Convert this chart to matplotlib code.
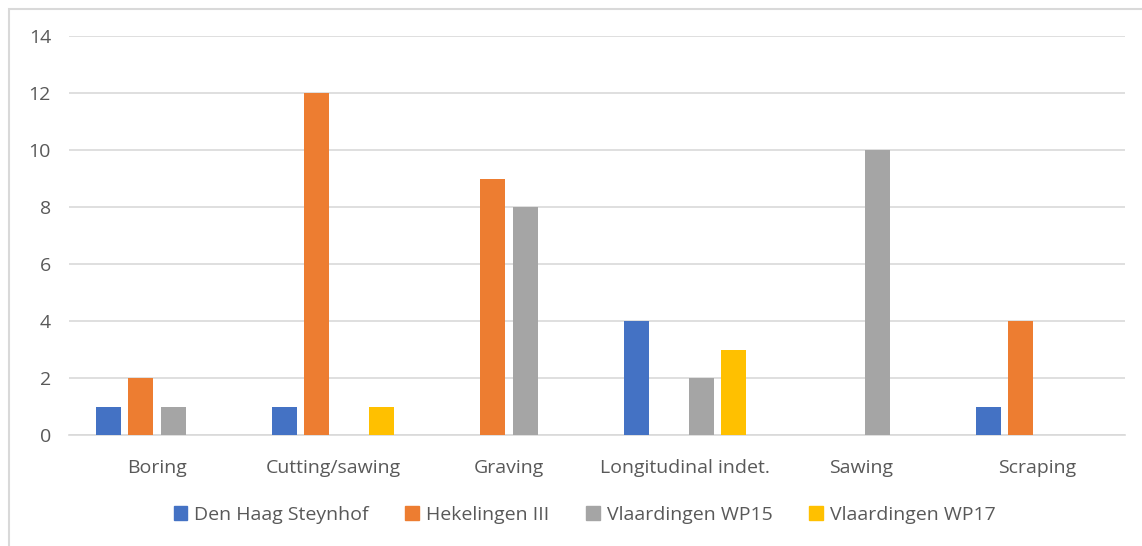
import matplotlib
matplotlib.use("Agg")
import matplotlib.pyplot as plt
import numpy as np
from matplotlib.patches import Rectangle

categories = ["Boring", "Cutting/sawing", "Graving", "Longitudinal indet.", "Sawing", "Scraping"]
series_names = ["Den Haag Steynhof", "Hekelingen III", "Vlaardingen WP15", "Vlaardingen WP17"]
den_haag = [1, 1, 0, 4, 0, 1]
hekelingen = [2, 12, 9, 0, 0, 4]
vlaardingen15 = [1, 0, 8, 2, 10, 0]
vlaardingen17 = [0, 1, 0, 3, 0, 0]
yticks = [0, 2, 4, 6, 8, 10, 12, 14]

colors = ["#4472C4", "#ED7D31", "#A5A5A5", "#FFC000"]
text_color = "#595959"

plt.rcParams['font.family'] = ['Open Sans', 'DejaVu Sans']

W, H = 1142, 546
fig = plt.figure(figsize=(W / 100, H / 100), dpi=100)
fig.patch.set_facecolor("white")
# light chart-area border (top and left visible)
fig.patches.append(Rectangle((8.5 / W, -0.01), 1.02, (H - 8.5) / H + 0.01,
                             transform=fig.transFigure, fill=False,
                             edgecolor="#d9d9d9", linewidth=1.5))

left, right = 69 / W, 1125 / W
bottom, top = 1 - 435 / H, 1 - 36 / H
ax = fig.add_axes([left, bottom, right - left, top - bottom])

x = np.arange(len(categories))
width = 0.142
step = 0.182
all_series = [den_haag, hekelingen, vlaardingen15, vlaardingen17]
for i, (name, vals) in enumerate(zip(series_names, all_series)):
    ax.bar(x + (i - 1.5) * step, vals, width, color=colors[i], label=name, zorder=3)

ax.set_xlim(-0.5, len(categories) - 0.5)
ax.set_ylim(0, 14)
ax.set_yticks(yticks)
ax.set_yticklabels([str(v) for v in yticks])
ax.set_xticks(x)
ax.set_xticklabels(categories)
ax.grid(axis="y", color="#d9d9d9", linewidth=1.2, zorder=0)
for s in ["top", "right", "left"]:
    ax.spines[s].set_visible(False)
ax.spines["bottom"].set_color("#d9d9d9")
ax.spines["bottom"].set_linewidth(1.2)
ax.tick_params(axis="both", length=0, colors=text_color, labelsize=14)
ax.tick_params(axis="y", pad=13)
ax.tick_params(axis="x", pad=17)

handles = [Rectangle((0, 0), 1, 1, color=c) for c in colors]
fig.legend(handles, series_names, loc="center", bbox_to_anchor=(584.5 / W, 1 - 515 / H),
           ncol=4, frameon=False, fontsize=14, labelcolor=text_color,
           handlelength=0.7, handleheight=0.7, handletextpad=0.35, columnspacing=1.9)

fig.savefig("out.png", dpi=100)
